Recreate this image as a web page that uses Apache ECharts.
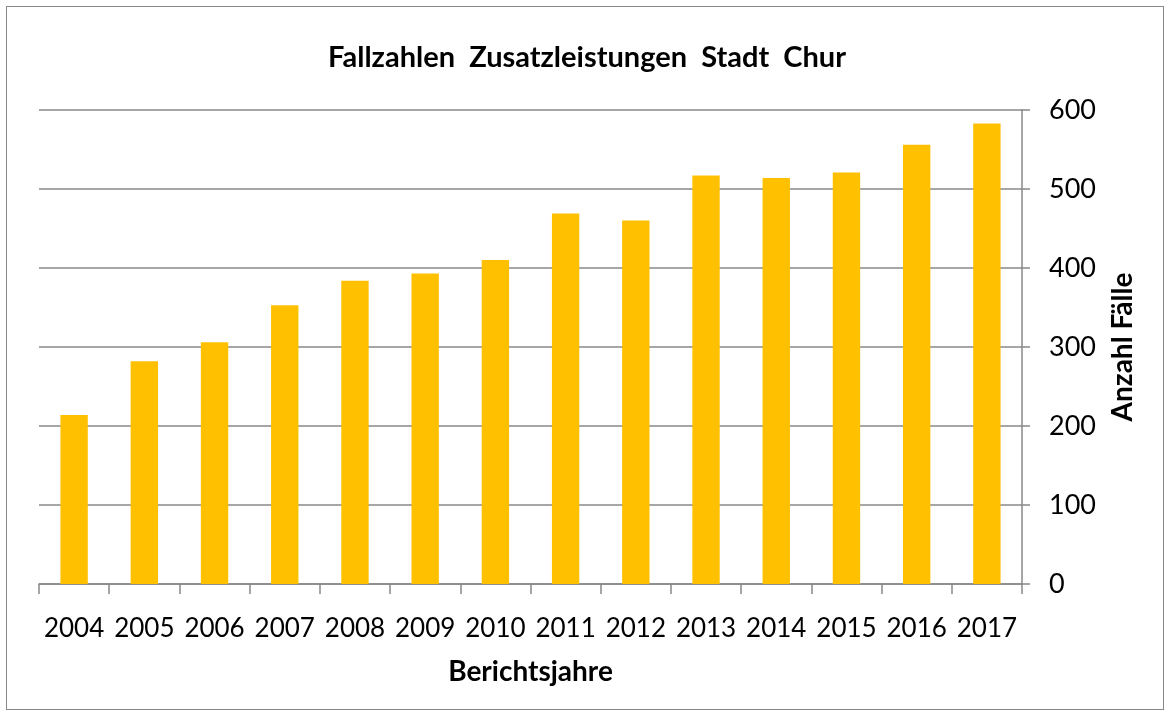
<!DOCTYPE html>
<html>
<head>
<meta charset="utf-8">
<script src="https://cdn.jsdelivr.net/npm/echarts@6/dist/echarts.min.js"></script>
<style>
  html, body { margin: 0; padding: 0; background: #fff; }
  #frame { position: absolute; left: 6px; top: 6px; width: 1158px; height: 704px; border: 1.5px solid #888; box-sizing: border-box; }
  #chartDiv { width: 1174px; height: 717px; position: absolute; left: 0; top: 0; }
</style>
</head>
<body>
<div id="frame"></div>
<div id="chartDiv"></div>
<script>
var years = ['2004','2005','2006','2007','2008','2009','2010','2011','2012','2013','2014','2015','2016','2017'];
var cases = [214, 282, 306, 353, 384, 393, 410, 469, 460, 517, 514, 521, 556, 583];
var yTicks = [0, 100, 200, 300, 400, 500, 600];

function FALLZAHLEN_CHART(){
    var chart = echarts.init(document.getElementById('chartDiv'));

    var fontName = 'Lato';

    var opts = {
        animation: false,
        title: {
            text: 'Fallzahlen  Zusatzleistungen  Stadt  Chur',
            left: 'center',
            top: 38,
            textStyle: {
                fontFamily: fontName,
                fontWeight: 'bold',
                fontSize: 29,
                color: '#000'
            }
        },
        grid: {
            left: 39,
            right: 152,
            top: 110,
            bottom: 133
        },
        xAxis: {
            type: 'category',
            data: years,
            name: 'Berichtsjahre',
            nameLocation: 'middle',
            nameGap: 74,
            nameTextStyle: {
                fontFamily: fontName,
                fontWeight: 'bold',
                fontSize: 28,
                color: '#000'
            },
            axisLine: { lineStyle: { color: '#888', width: 1.5 } },
            axisTick: { show: true, interval: 0, length: 10, alignWithLabel: false, lineStyle: { color: '#888', width: 1.5 } },
            axisLabel: {
                interval: 0,
                margin: 32,
                fontFamily: fontName,
                fontSize: 26,
                color: '#000'
            }
        },
        yAxis: {
            type: 'value',
            position: 'right',
            min: yTicks[0],
            max: yTicks[yTicks.length - 1],
            interval: 100,
            name: 'Anzahl Fälle',
            nameLocation: 'middle',
            nameRotate: 90,
            nameGap: 87,
            nameTextStyle: {
                fontFamily: fontName,
                fontWeight: 'bold',
                fontSize: 28,
                color: '#000'
            },
            axisLine: { show: true, lineStyle: { color: '#888', width: 1.5 } },
            axisTick: { show: true, length: 8, lineStyle: { color: '#888', width: 1.5 } },
            axisLabel: {
                margin: 27,
                fontFamily: fontName,
                fontSize: 27,
                color: '#000'
            },
            splitLine: { show: true, lineStyle: { color: '#888', width: 1.5 } }
        },
        series: [{
            type: 'bar',
            data: cases,
            barWidth: '39%',
            itemStyle: { color: '#ffc000' }
        }]
    };

    chart.setOption(opts);
}

FALLZAHLEN_CHART();
</script>
</body>
</html>
